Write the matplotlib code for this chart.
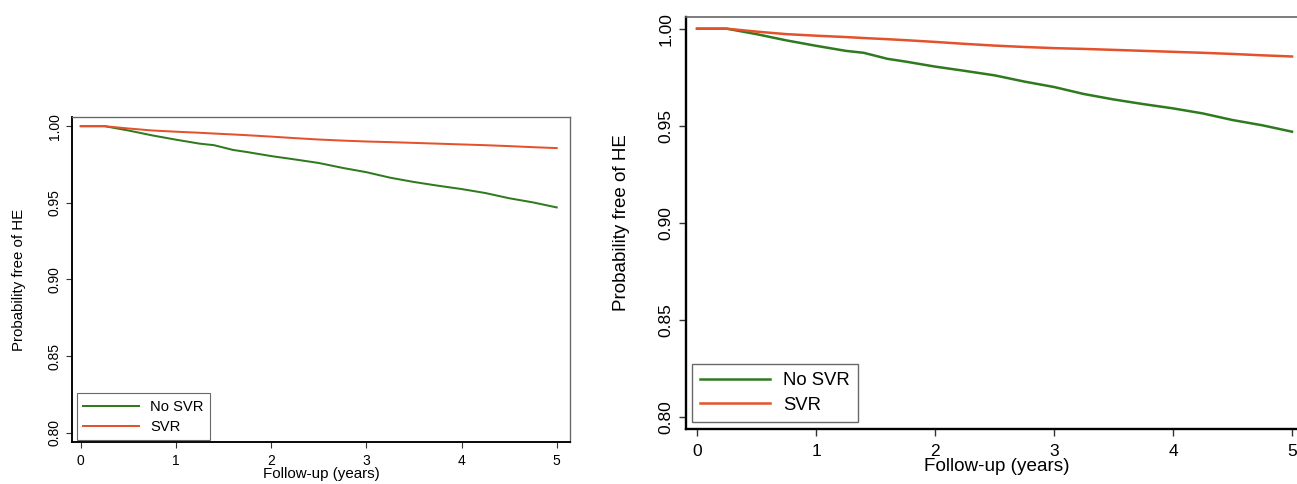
import matplotlib

matplotlib.use("Agg")
import matplotlib.pyplot as plt

plt.rcParams["font.family"] = ["Liberation Sans", "DejaVu Sans"]

# Kaplan-Meier estimates
years = [0.0, 0.25, 0.5, 0.75, 1.0, 1.25, 1.4, 1.6, 1.75, 2.0, 2.25, 2.5,
         2.75, 3.0, 3.25, 3.5, 3.75, 4.0, 4.25, 4.5, 4.75, 5.0]
no_svr = [1.0, 1.0, 0.9972, 0.9940, 0.9912, 0.9886, 0.9876, 0.9845, 0.9831,
          0.9805, 0.9783, 0.9760, 0.9728, 0.9700, 0.9664, 0.9636, 0.9612,
          0.9590, 0.9564, 0.9530, 0.9503, 0.9470]
svr = [1.0, 1.0, 0.9985, 0.9972, 0.9964, 0.9957, 0.9952, 0.9946, 0.9941,
       0.9932, 0.9922, 0.9913, 0.9906, 0.9900, 0.9896, 0.9891, 0.9886,
       0.9881, 0.9876, 0.9870, 0.9863, 0.9857]

xticks = [0, 1, 2, 3, 4, 5]
yticks = [0.80, 0.85, 0.90, 0.95, 1.00]
ytick_labels = ["0.80", "0.85", "0.90", "0.95", "1.00"]

GREEN = "#2f7a1f"
RED = "#e4522b"


def draw_panel(ax, s, legend_anchor):
    """Stata-like survival panel, s scales fonts and lines."""
    ax.plot(years, no_svr, color=GREEN, lw=1.8 * s, label="No SVR")
    ax.plot(years, svr, color=RED, lw=1.8 * s, label="SVR")
    ax.set_xlim(-0.095, 5.14)
    ax.set_ylim(0.794, 1.006)
    ax.set_xticks(xticks)
    ax.set_yticks(yticks)
    ax.set_yticklabels(ytick_labels, rotation=90, va="center")
    ax.tick_params(labelsize=12.5 * s, length=5 * s, width=1.0 * s, color="#333333")
    ax.tick_params(axis="x", pad=6 * s)
    ax.tick_params(axis="y", pad=4 * s)
    for side in ("left", "bottom"):
        ax.spines[side].set_linewidth(1.7 * s)
        ax.spines[side].set_color("black")
    for side in ("top", "right"):
        ax.spines[side].set_linewidth(1.2 * s)
        ax.spines[side].set_color("#666666")
    ax.set_xlabel("Follow-up (years)", fontsize=13.6 * s, labelpad=-1)
    ax.set_ylabel("Probability free of HE", fontsize=13.5 * s, labelpad=20 * s)
    leg = ax.legend(loc="lower left", bbox_to_anchor=legend_anchor,
                    fontsize=13.3 * s, fancybox=False, frameon=True,
                    handlelength=3.75, handletextpad=0.75, borderpad=0.45,
                    labelspacing=0.4, borderaxespad=0)
    leg.get_frame().set_edgecolor("#444444")
    leg.get_frame().set_linewidth(1.0 * s)


fig = plt.figure(figsize=(12.97, 4.84), dpi=100)
ax_small = fig.add_axes([0.0553, 0.0868, 0.3842, 0.6715])
ax_big = fig.add_axes([0.5287, 0.1136, 0.4803, 0.8512])

draw_panel(ax_small, 0.8, (0.01, 0.005))
draw_panel(ax_big, 1.0, (0.01, 0.017))

fig.savefig("out.png", dpi=100)
